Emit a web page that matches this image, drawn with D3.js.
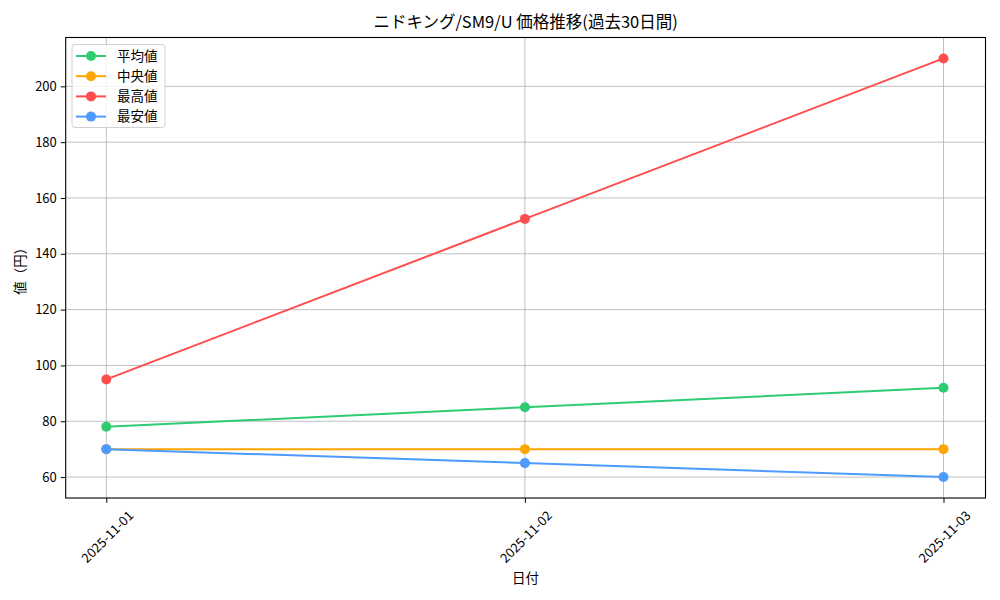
<!DOCTYPE html>
<html>
<head>
<meta charset="utf-8">
<script src="https://cdn.jsdelivr.net/npm/d3@7"></script>
<style>
  body { margin: 0; background: #fff; }
  svg text { font-family: "Noto Sans CJK JP", sans-serif; fill: #000; }
</style>
</head>
<body>
<svg id="chart" width="1000" height="600"></svg>
<script>
const dates = ["2025-11-01", "2025-11-02", "2025-11-03"];
const avgPrices = [78, 85, 92];
const medianPrices = [70, 70, 70];
const maxPrices = [95, 152.5, 210];
const minPrices = [70, 65, 60];
const seriesNames = ["平均値", "中央値", "最高値", "最安値"];
const seriesColors = ["#2ecc71", "#ffa500", "#ff4d4d", "#4d9bff"];
const yTicks = [60, 80, 100, 120, 140, 160, 180, 200];

const series = [avgPrices, medianPrices, maxPrices, minPrices];

const LEFT = 65.7, RIGHT = 985.5, TOP = 37.5, BOTTOM = 498;

const svg = d3.select('#chart');

const x = d3.scaleLinear().domain([0, 2]).range([106.3, 943.5]);
const y = d3.scaleLinear().domain([52.5, 217.5]).range([BOTTOM, TOP]);

// grid
const grid = svg.append('g');
grid.selectAll('line.v')
  .data(dates)
  .enter().append('line')
  .attr('x1', (d, i) => x(i)).attr('x2', (d, i) => x(i))
  .attr('y1', TOP).attr('y2', BOTTOM)
  .style('stroke', '#b0b0b0').style('stroke-width', 0.8);
grid.selectAll('line.h')
  .data(yTicks)
  .enter().append('line')
  .attr('x1', LEFT).attr('x2', RIGHT)
  .attr('y1', d => y(d)).attr('y2', d => y(d))
  .style('stroke', '#b0b0b0').style('stroke-width', 0.8);

// y axis
const yAxis = svg.append('g')
  .attr('transform', `translate(${LEFT},0)`)
  .call(d3.axisLeft(y).tickValues(yTicks).tickSize(4.9).tickPadding(4));
yAxis.select('.domain').remove();
yAxis.selectAll('text').style('font-size', '13px');

// x axis
const xAxis = svg.append('g')
  .attr('transform', `translate(0,${BOTTOM})`)
  .call(d3.axisBottom(x).tickValues([0, 1, 2]).tickFormat(i => dates[i]).tickSize(4.9));
xAxis.select('.domain').remove();
xAxis.selectAll('text')
  .style('font-size', '13px')
  .attr('text-anchor', 'middle')
  .attr('dominant-baseline', 'central')
  .attr('y', 0).attr('dy', null)
  .each(function () {
    const w = this.getComputedTextLength();
    const half = (w + 13) * Math.SQRT1_2 / 2;
    d3.select(this).attr('transform', `translate(0,${10 + half}) rotate(-45)`);
  });

// frame
svg.append('rect')
  .attr('x', LEFT).attr('y', TOP)
  .attr('width', RIGHT - LEFT).attr('height', BOTTOM - TOP)
  .style('fill', 'none').style('stroke', '#000').style('stroke-width', 1.1);

// lines
const line = d3.line().x((d, i) => x(i)).y(d => y(d));
const plots = svg.append('g');
series.forEach((vals, k) => {
  const g = plots.append('g');
  g.append('path')
    .datum(vals)
    .attr('d', line)
    .style('fill', 'none')
    .style('stroke', seriesColors[k])
    .style('stroke-width', 2);
  g.selectAll('circle')
    .data(vals)
    .enter().append('circle')
    .attr('cx', (d, i) => x(i))
    .attr('cy', d => y(d))
    .attr('r', 5)
    .style('fill', seriesColors[k]);
});

// legend
const legend = svg.append('g');
legend.append('rect')
  .attr('x', 72).attr('y', 44.5).attr('width', 93).attr('height', 83)
  .attr('rx', 3)
  .style('fill', 'rgba(255,255,255,0.8)')
  .style('stroke', '#d0d0d0').style('stroke-width', 1);
const items = legend.selectAll('g.item')
  .data(seriesNames)
  .enter().append('g')
  .attr('transform', (d, i) => `translate(0,${56 + i * 20.2})`);
items.append('line')
  .attr('x1', 76).attr('x2', 106)
  .style('stroke', (d, i) => seriesColors[i]).style('stroke-width', 2);
items.append('circle')
  .attr('cx', 91).attr('r', 5)
  .style('fill', (d, i) => seriesColors[i]);
items.append('text')
  .attr('x', 117).attr('dy', '0.35em')
  .style('font-size', '13.5px')
  .text(d => d);

// title & labels
svg.append('text')
  .attr('x', (LEFT + RIGHT) / 2).attr('y', 28)
  .attr('text-anchor', 'middle')
  .style('font-size', '16.5px')
  .text('ニドキング/SM9/U 価格推移(過去30日間)');

svg.append('text')
  .attr('x', (LEFT + RIGHT) / 2).attr('y', 583)
  .attr('text-anchor', 'middle')
  .style('font-size', '13.5px')
  .text('日付');

svg.append('text')
  .attr('transform', `translate(25,${(TOP + BOTTOM) / 2}) rotate(-90)`)
  .attr('text-anchor', 'middle')
  .style('font-size', '13.5px')
  .text('値（円）');
</script>
</body>
</html>
